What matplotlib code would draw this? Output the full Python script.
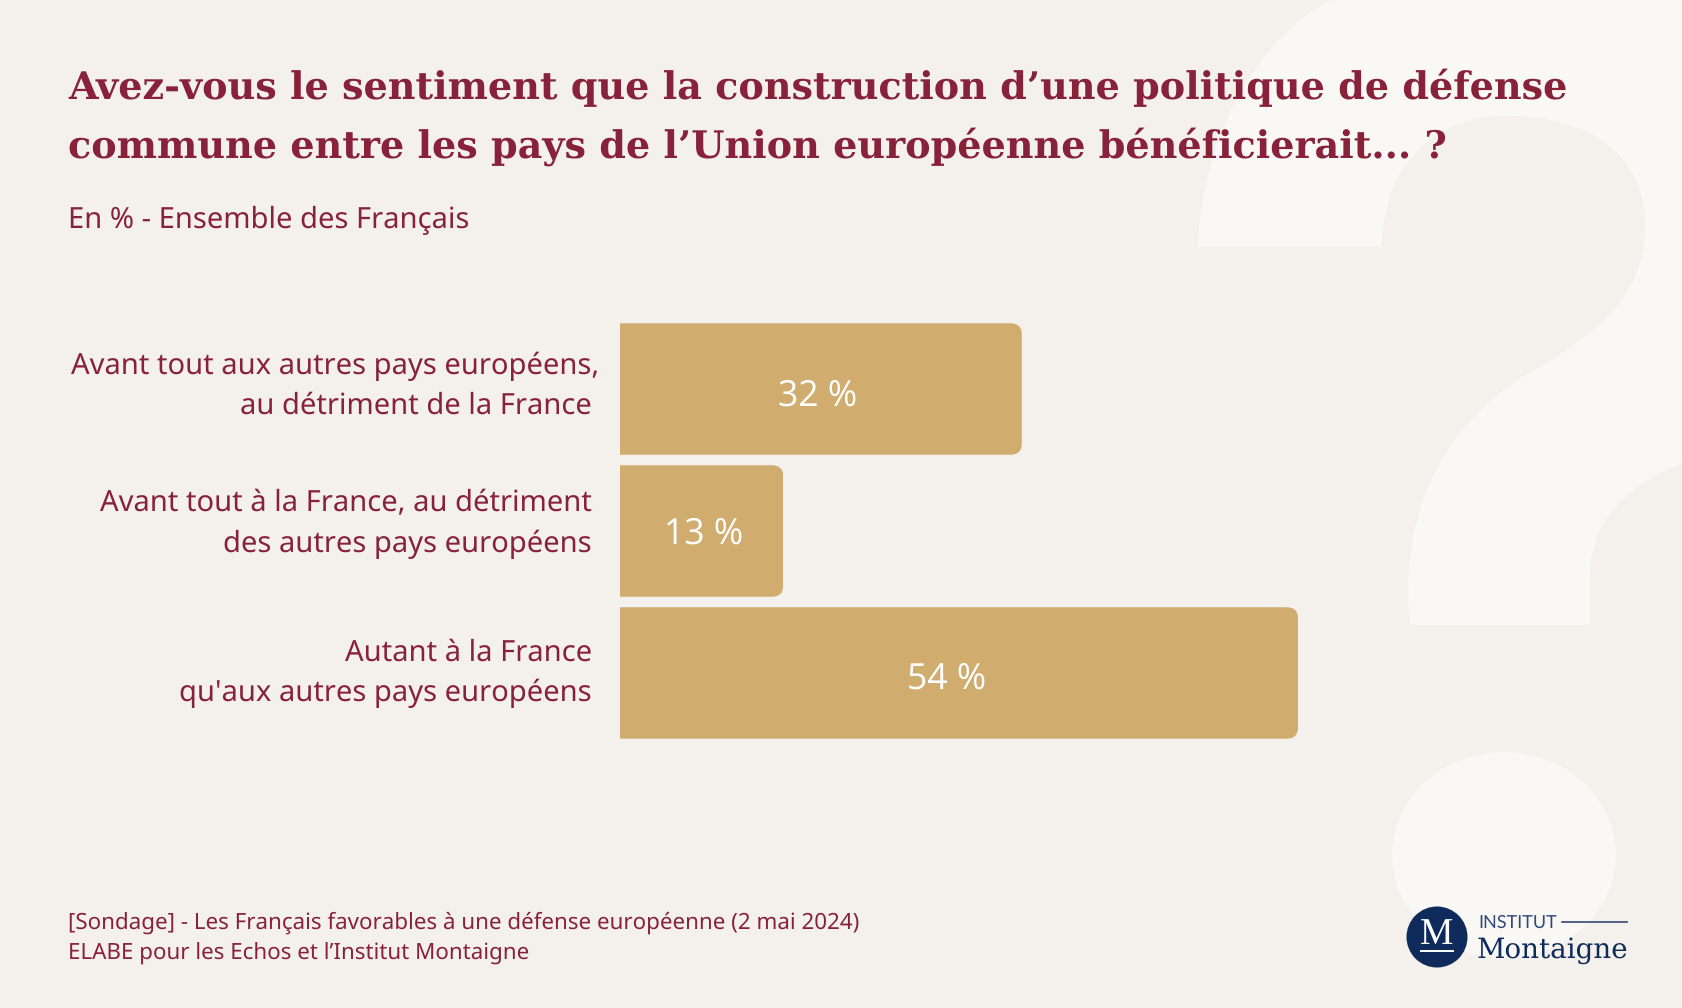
import matplotlib
matplotlib.use("Agg")
import matplotlib.pyplot as plt
from matplotlib.patches import Circle, Ellipse, FancyBboxPatch, PathPatch
from matplotlib.path import Path
from matplotlib.transforms import IdentityTransform

plt.rcParams["text.hinting"] = "no_hinting"

W, H = 1682, 1008
BG = "#F4F1EC"
MARK = "#F9F8F5"
RED = "#88223B"
GOLD = "#D0AD6F"
NAVY = "#0E2B5C"

title_lines = ["Avez-vous le sentiment que la construction d’une politique de défense",
               "commune entre les pays de l’Union européenne bénéficierait... ?"]
subtitle = "En % - Ensemble des Français"
categories = [["Avant tout aux autres pays européens,", "au détriment de la France"],
              ["Avant tout à la France, au détriment", "des autres pays européens"],
              ["Autant à la France", "qu'aux autres pays européens"]]
values = [32, 13, 54]
value_labels = ["32 %", "13 %", "54 %"]
source_lines = ["[Sondage] - Les Français favorables à une défense européenne (2 mai 2024)",
                "ELABE pour les Echos et l’Institut Montaigne"]

fig = plt.figure(figsize=(W / 100, H / 100), dpi=100, facecolor=BG)

# overlay in image pixels, for decoration and free text
bg = fig.add_axes([0, 0, 1, 1], zorder=0)
bg.set_xlim(0, W)
bg.set_ylim(H, 0)
bg.axis("off")

# big question mark behind everything
M, L, C = Path.MOVETO, Path.LINETO, Path.CURVE4
verts = [(1198, 247), (1202, 130), (1265, 30), (1333, 0),
         (1700, 0), (1700, 455), (1682, 463),
         (1625, 487), (1590, 520), (1590, 578),
         (1590, 625), (1410, 625),
         (1400, 530), (1430, 430), (1534, 370),
         (1600, 332), (1645, 295), (1645, 225),
         (1645, 155), (1590, 116), (1506, 116),
         (1430, 116), (1382, 170), (1382, 247),
         (1198, 247)]
codes = [M, C, C, C, L, L, L, C, C, C, L, L, C, C, C, C, C, C, C, C, C, C, C, C, Path.CLOSEPOLY]
bg.add_patch(PathPatch(Path(verts, codes), fc=MARK, ec="none"))
bg.add_patch(Ellipse((1504, 855), 224, 206, fc=MARK, ec="none"))

# bars
ax = fig.add_axes([620 / W, 1 - 739 / H, 678 / W, 416 / H], zorder=1)
ax.set_xlim(0, 54)
ax.set_ylim(2.465, -0.465)
ax.axis("off")
bars = ax.barh(range(len(values)), values, height=0.926, color=GOLD)
fig.canvas.draw()
for bar in bars:
    # rounded right end only: clip the bar with a rounded box running past its left end
    ext = bar.get_window_extent()
    clip = FancyBboxPatch((ext.x0 - 30, ext.y0), ext.width + 30, ext.height,
                          boxstyle="round,pad=0,rounding_size=11", transform=IdentityTransform())
    bar.set_clip_path(clip)

# text overlay
top = fig.add_axes([0, 0, 1, 1], zorder=2)
top.set_xlim(0, W)
top.set_ylim(H, 0)
top.axis("off")
top.patch.set_alpha(0)

for line, y in zip(title_lines, [99, 158]):
    top.text(68, y, line, family="DejaVu Serif", weight="bold", fontsize=27.45, color=RED, va="baseline")
top.text(68, 220, subtitle, family="Noto Sans", fontsize=21, color=RED, va="center")

label_right = [[599, 592], [592, 592], [592, 592]]
label_y = [[366, 406], [504, 544], [653, 693]]
for lines, xs, ys in zip(categories, label_right, label_y):
    for line, x, y in zip(lines, xs, ys):
        top.text(x, y, line, family="Noto Sans", fontsize=21, color=RED, ha="right", va="center")

value_x = [818, 704, 947]
value_y = [396, 534, 679]
for lab, x, y in zip(value_labels, value_x, value_y):
    top.text(x, y, lab, family="Open Sans", fontsize=25.6, color="white", ha="center", va="center")

for line, y in zip(source_lines, [923, 953]):
    top.text(68, y, line, family="Noto Sans", fontsize=16.1, color=RED, va="center")

# logo
top.add_patch(Circle((1437, 937), 30.5, fc=NAVY, ec="none"))
top.text(1437, 935, "M", family="Liberation Serif", fontsize=27, color="white", ha="center", va="center")
top.plot([1421, 1453], [951, 951], color="white", lw=1.4)
top.text(1478, 923, "INSTITUT", family="Lato", fontsize=13, color="#33497A", va="center")
top.plot([1562, 1627], [922, 922], color="#33497A", lw=1.2)
top.text(1477, 958, "Montaigne", family="DejaVu Serif", fontsize=20, color=NAVY, va="baseline")

fig.savefig("out.png", dpi=100, facecolor=BG)
